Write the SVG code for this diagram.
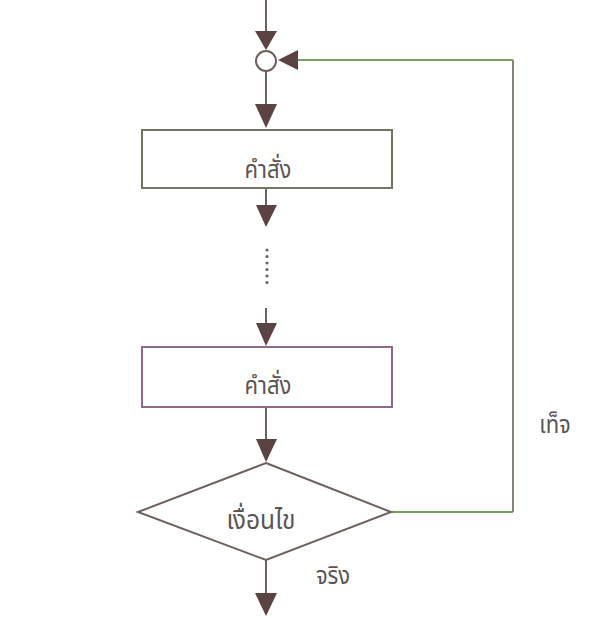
<svg xmlns="http://www.w3.org/2000/svg" width="605" height="618" viewBox="0 0 605 618">
  <style>
    .flow { stroke: #6e615d; stroke-width: 2; fill: none; }
    .loop { stroke: #78a060; stroke-width: 2; fill: none; }
    .loopv { stroke: #8a8278; stroke-width: 2; fill: none; }
    .head { fill: #5b4341; }
    .label { font-family: "Noto Sans Thai", "Noto Serif Thai", "Noto Sans", "DejaVu Sans", sans-serif; font-size: 25px; fill: #5a5555; text-anchor: middle; }
    .dot { fill: #6e615d; }
  </style>

  <rect width="605" height="618" fill="#ffffff"/>

  <!-- connectors -->
  <g id="connectors">
    <!-- entry into the junction -->
    <line class="flow" x1="266" y1="0" x2="266" y2="36"/>
    <polygon class="head" points="255,31 277,31 266,50"/>
    <!-- junction to first statement -->
    <line class="flow" x1="266" y1="71" x2="266" y2="106"/>
    <polygon class="head" points="255,104 277,104 266,128"/>
    <!-- first statement downwards -->
    <line class="flow" x1="266" y1="188" x2="266" y2="208"/>
    <polygon class="head" points="256,205 277,205 266,227"/>
    <!-- elided statements -->
    <circle class="dot" cx="267" cy="250" r="1.6"/>
    <circle class="dot" cx="267" cy="256.5" r="1.6"/>
    <circle class="dot" cx="267" cy="263" r="1.6"/>
    <circle class="dot" cx="267" cy="269.5" r="1.6"/>
    <circle class="dot" cx="267" cy="276" r="1.6"/>
    <circle class="dot" cx="267" cy="282.5" r="1.6"/>
    <!-- into the last statement -->
    <line class="flow" x1="266" y1="308" x2="266" y2="326"/>
    <polygon class="head" points="256,323 277,323 266,346"/>
    <!-- last statement to condition -->
    <line class="flow" x1="266" y1="407" x2="266" y2="442"/>
    <polygon class="head" points="256,439 277,439 266,462"/>
    <!-- condition true: exit -->
    <line class="flow" x1="266" y1="560" x2="266" y2="596"/>
    <polygon class="head" points="255,593 277,593 266,616"/>
    <!-- condition false: loop back to the junction -->
    <line class="loop" x1="391" y1="512" x2="513" y2="512"/>
    <line class="loopv" x1="513" y1="512" x2="513" y2="60"/>
    <line class="loop" x1="513" y1="60" x2="296" y2="60"/>
    <polygon class="head" points="298,50 298,70 278,60"/>
  </g>

  <!-- junction point -->
  <g id="junction">
    <circle cx="266" cy="61" r="10" fill="#ffffff" stroke="#6e615d" stroke-width="2"/>
  </g>

  <!-- first statement -->
  <g id="statement-1">
    <rect x="142" y="130" width="250" height="58" fill="#ffffff" stroke="#6f7560" stroke-width="2"/>
    <text class="label" transform="translate(268,178) scale(0.88,1)">คำสั่ง</text>
  </g>

  <!-- last statement -->
  <g id="statement-n">
    <rect x="142" y="347" width="250" height="60" fill="#ffffff" stroke="#8e6a8a" stroke-width="2"/>
    <text class="label" transform="translate(268,394) scale(0.88,1)">คำสั่ง</text>
  </g>

  <!-- loop condition -->
  <g id="condition">
    <polygon points="266,463 391,512 266,560 138,512" fill="#ffffff" stroke="#6e615d" stroke-width="2"/>
    <text class="label" transform="translate(261,529) scale(0.98,1.04)">เงื่อนไข</text>
  </g>

  <!-- branch labels -->
  <g id="labels">
    <text class="label" transform="translate(555,433) scale(0.88,1)">เท็จ</text>
    <text class="label" transform="translate(333,584) scale(0.88,1)">จริง</text>
  </g>
</svg>
